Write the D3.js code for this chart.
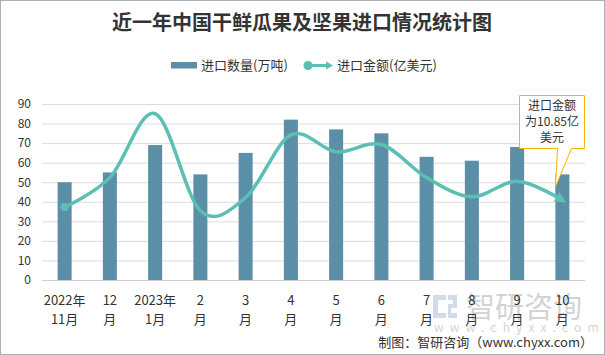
<!DOCTYPE html>
<html><head><meta charset="utf-8">
<script src="https://cdn.jsdelivr.net/npm/d3@7"></script>
<style>body{margin:0;background:#fff}svg{display:block}text{font-family:"Noto Sans CJK SC","Microsoft YaHei",sans-serif}</style>
</head><body><svg id="c" width="605" height="355"></svg>
<script>
const title = "近一年中国干鲜瓜果及坚果进口情况统计图";
const categories = ["2022年11月","12月","2023年1月","2月","3月","4月","5月","6月","7月","8月","9月","10月"];
const labelLine1 = ["2022年","12","2023年","2","3","4","5","6","7","8","9","10"];
const labelLine2 = ["11月","月","1月","月","月","月","月","月","月","月","月","月"];
const quantity = [50, 55, 69, 54, 65, 82, 77, 75, 63, 61, 68, 54];        // 进口数量(万吨)
const amount = [9.9, 13.9, 22.6, 9.4, 11.2, 19.7, 17.4, 18.4, 13.9, 11.3, 13.4, 10.85]; // 进口金额(亿美元)
const yTicks = [0,10,20,30,40,50,60,70,80,90];
const seriesNames = ["进口数量(万吨)", "进口金额(亿美元)"];
const note = ["进口金额", "为10.85亿", "美元"];

const svg = d3.select("#c");
const barColor = "#5b8fa8", lineColor = "#5cbfb3";
svg.append("rect").attr("x",0.5).attr("y",0.5).attr("width",604).attr("height",354).attr("fill","#fff").attr("stroke","#b0b0b0");

const x = d3.scaleBand().domain(categories).range([42,585]).paddingInner(0.69).paddingOuter(0.345);
const y = d3.scaleLinear().domain([0,90]).range([280,104]);
const y2 = d3.scaleLinear().domain([0,23.9]).range([280,104]);

// title
svg.append("text").attr("x",302).attr("y",30).attr("text-anchor","middle").attr("font-size",20).attr("font-weight","bold").attr("fill","#333").text(title);

// grid + y axis
const yAxis = d3.axisLeft(y).tickValues(yTicks).tickSize(0).tickPadding(0);
const gy = svg.append("g").attr("transform","translate(31,0)").call(yAxis);
gy.select(".domain").remove();
gy.selectAll("text").attr("font-size",12).attr("fill","#333").attr("font-family","'Noto Sans CJK SC',sans-serif");
svg.append("g").selectAll("line").data(yTicks).join("line")
  .attr("x1",42).attr("x2",585).attr("y1",d=>y(d)+0.5).attr("y2",d=>y(d)+0.5)
  .attr("stroke",d=>d===0?"#cfcfcf":"#dcdcdc").attr("stroke-width",1);

// watermark
const wm = svg.append("g").attr("opacity",0.4);
wm.append("text").attr("x",466).attr("y",318).attr("font-size",29).attr("fill","#8f949a").text("智研咨询");
wm.append("text").attr("x",434).attr("y",332).attr("font-size",12).attr("letter-spacing",6.2).attr("fill","#8f949a").text("www.chyxx.com");
wm.append("path").attr("d","M433,295H446V300H438V313H446V318H433Z M448,295H457V308H451V313H457V318H448V304H453V300H448Z").attr("fill","#90a8c8");

// bars
svg.append("g").selectAll("rect").data(quantity).join("rect")
  .attr("x",(d,i)=>x(categories[i])).attr("width",x.bandwidth())
  .attr("y",d=>y(d)).attr("height",d=>y(0)-y(d)).attr("fill",barColor);

// line markers
const defs = svg.append("defs");
defs.append("marker").attr("id","arr").attr("viewBox","0 0 10 10").attr("refX",6).attr("refY",5)
  .attr("markerWidth",3.2).attr("markerHeight",3.2).attr("orient","auto").attr("markerUnits","strokeWidth")
  .append("path").attr("d","M0,0L10,5L0,10Z").attr("fill",lineColor);
defs.append("marker").attr("id","dot").attr("viewBox","0 0 10 10").attr("refX",5).attr("refY",5)
  .attr("markerWidth",2.4).attr("markerHeight",2.4).attr("markerUnits","strokeWidth")
  .append("circle").attr("cx",5).attr("cy",5).attr("r",5).attr("fill",lineColor);

const line = d3.line().x((d,i)=>x(categories[i])+x.bandwidth()/2).y(d=>y2(d)).curve(d3.curveCardinal.tension(0));
svg.append("path").datum(amount).attr("d",line).attr("fill","none").attr("stroke",lineColor)
  .attr("stroke-width",3.5).attr("marker-end","url(#arr)").attr("marker-start","url(#dot)");

// x labels
const gx = svg.append("g");
categories.forEach((c,i)=>{
  const cx = x(c)+x.bandwidth()/2;
  gx.append("text").attr("x",cx).attr("y",305).attr("text-anchor","middle").attr("font-size",13).attr("fill","#333").text(labelLine1[i]);
  gx.append("text").attr("x",cx).attr("y",324).attr("text-anchor","middle").attr("font-size",13).attr("fill","#333").text(labelLine2[i]);
});

// legend
const lg = svg.append("g");
lg.append("rect").attr("x",171).attr("y",62).attr("width",26).attr("height",6.5).attr("fill",barColor);
lg.append("text").attr("x",201).attr("y",70).attr("font-size",13).attr("fill","#333").text(seriesNames[0]);
lg.append("line").attr("x1",307).attr("x2",328).attr("y1",65.5).attr("y2",65.5).attr("stroke",lineColor).attr("stroke-width",3);
lg.append("circle").attr("cx",308).attr("cy",65.5).attr("r",4.5).attr("fill",lineColor);
lg.append("path").attr("d","M326,61.5L333,65.5L326,69.5Z").attr("fill",lineColor);
lg.append("text").attr("x",337).attr("y",70).attr("font-size",13).attr("fill","#333").text(seriesNames[1]);

// callout
const ci = 11;
const tipX = x(categories[ci])+x.bandwidth()/2 - 7, tipY = 187;
const co = svg.append("g");
co.append("path").attr("d",`M519.5,95.5H584.5V148.5H571.5L${tipX},${tipY}L557.5,148.5H519.5Z`)
  .attr("fill","#fff").attr("stroke","#f5b700").attr("stroke-width",1);
note.forEach((t,i)=>co.append("text").attr("x",552).attr("y",110+i*16).attr("text-anchor","middle").attr("font-size",12).attr("fill","#333").text(t));

// footer
svg.append("text").attr("x",593).attr("y",347).attr("text-anchor","end").attr("font-size",13).attr("fill","#333").text("制图：智研咨询（www.chyxx.com）");
</script></body></html>
